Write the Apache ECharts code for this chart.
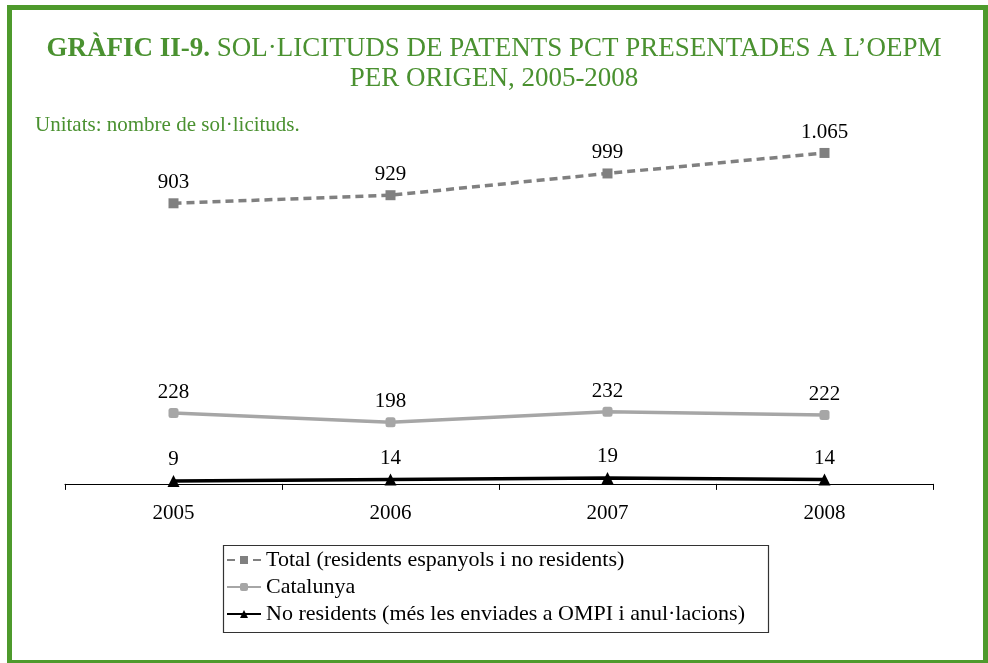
<!DOCTYPE html>
<html>
<head>
<meta charset="utf-8">
<script src="https://cdn.jsdelivr.net/npm/echarts@6/dist/echarts.min.js"></script>
<style>
  html, body { margin: 0; padding: 0; background: #fff; }
  #frame {
    position: absolute; left: 7px; top: 5px; width: 981px; height: 658px;
    box-sizing: border-box; border: 5px solid #4e9a2c; border-bottom-width: 3px;
  }
  #chart { position: absolute; left: 0; top: 0; width: 988px; height: 663px; }
</style>
</head>
<body>
<div id="chart"></div>
<div id="frame"></div>
<script>
// anys
const years = ['2005', '2006', '2007', '2008'];
// sèries
const total = [903, 929, 999, 1065];
const catalunya = [228, 198, 232, 222];
const noResidents = [9, 14, 19, 14];

const green = '#4a9130';
const serif = "'Liberation Serif', 'Times New Roman', serif";

// separador de milers català
const fmt = v => String(v).replace(/\B(?=(\d{3})+(?!\d))/g, '.');

const lbl = {
  show: true, position: 'top', distance: 5,
  color: '#000', fontSize: 21, fontFamily: serif,
  formatter: p => fmt(p.value)
};

const chart = echarts.init(document.getElementById('chart'));
chart.setOption({
  animation: false,
  textStyle: { fontFamily: serif },
  title: [
    {
      text: '{b|GRÀFIC II-9.} SOL·LICITUDS DE PATENTS PCT PRESENTADES A L’OEPM\nPER ORIGEN, 2005-2008',
      left: 'center', top: 29,
      textStyle: {
        color: green, fontFamily: serif, fontSize: 27, fontWeight: 'normal', lineHeight: 30,
        rich: { b: { fontWeight: 'bold', color: green, fontFamily: serif, fontSize: 27, lineHeight: 30 } }
      }
    },
    {
      text: 'Unitats: nombre de sol·licituds.',
      left: 30, top: 110,
      textStyle: { color: green, fontFamily: serif, fontSize: 21, fontWeight: 'normal' }
    }
  ],
  graphic: [
    {
      type: 'rect', left: 221, top: 543,
      shape: { width: 545, height: 87 },
      style: { fill: 'none', stroke: '#333', lineWidth: 1.2 }
    }
  ],
  grid: { left: 65, right: 55, top: 111, bottom: 176 },
  legend: {
    orient: 'vertical',
    left: 226, top: 549,
    padding: 0,
    itemGap: 5,
    itemWidth: 34, itemHeight: 10,
    formatter: n => '{t|' + n + '}',
    textStyle: {
      fontFamily: serif, fontSize: 22, color: '#000',
      rich: { t: { fontFamily: serif, fontSize: 22, color: '#000' } }
    },
    data: [
      'Total (residents espanyols i no residents)',
      'Catalunya',
      'No residents (més les enviades a OMPI i anul·lacions)'
    ]
  },
  xAxis: {
    type: 'category',
    data: years,
    boundaryGap: true,
    axisLine: { lineStyle: { color: '#000', width: 1 } },
    axisTick: { show: true, inside: false, length: 6, lineStyle: { color: '#000' } },
    axisLabel: { color: '#000', fontSize: 21, fontFamily: serif, margin: 16 }
  },
  yAxis: {
    type: 'value', min: -10, max: 1200,
    show: false, splitLine: { show: false }
  },
  series: [
    {
      name: 'Total (residents espanyols i no residents)',
      type: 'line', data: total,
      symbol: 'rect', symbolSize: 10,
      lineStyle: { color: '#808080', width: 3.5, type: [8, 5] },
      itemStyle: { color: '#808080' },
      label: lbl
    },
    {
      name: 'Catalunya',
      type: 'line', data: catalunya,
      symbol: 'roundRect', symbolSize: 10,
      lineStyle: { color: '#a6a6a6', width: 3.5 },
      itemStyle: { color: '#a6a6a6' },
      label: lbl
    },
    {
      name: 'No residents (més les enviades a OMPI i anul·lacions)',
      type: 'line', data: noResidents,
      symbol: 'triangle', symbolSize: 12,
      lineStyle: { color: '#000', width: 3.5 },
      itemStyle: { color: '#000' },
      label: lbl
    }
  ]
});
</script>
</body>
</html>
